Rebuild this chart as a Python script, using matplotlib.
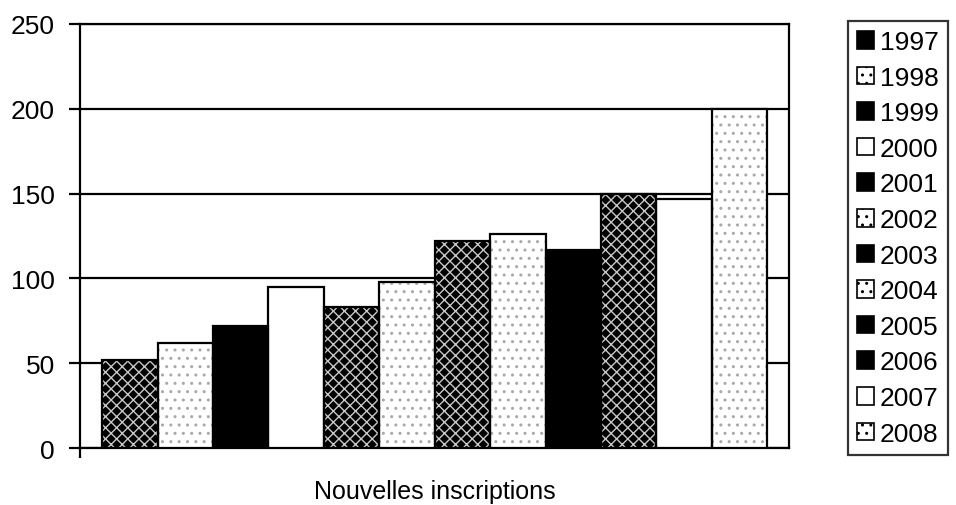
import numpy as np
import matplotlib.pyplot as plt
from matplotlib.patches import Patch

plt.rcParams['font.family'] = ['Liberation Sans', 'DejaVu Sans']

years = ['1997', '1998', '1999', '2000', '2001', '2002',
         '2003', '2004', '2005', '2006', '2007', '2008']
values = [52, 62, 72, 95, 83, 98, 122, 126, 117, 150, 147, 200]
# fill style per year: black, stipple, white, dark (black with white speckle)
styles = ['dark', 'stipple', 'black', 'white', 'dark', 'stipple',
          'dark', 'stipple', 'black', 'dark', 'white', 'stipple']

look = {
    'black':   dict(face='black', hatch=None, hcol='black'),
    'white':   dict(face='white', hatch=None, hcol='white'),
    'stipple': dict(face='white', hatch='..', hcol='#a8a8a8'),
    'dark':    dict(face='black', hatch='xxx', hcol='#c8c8c8'),
}

fig = plt.figure(figsize=(9.56, 5.06), dpi=100)
ax = fig.add_axes([0.0837, 0.1126, 0.742, 0.838])

x = np.arange(len(years))
for xi, v, s in zip(x, values, styles):
    st = look[s]
    ax.bar(xi, v, width=1.0, color=st['face'], edgecolor=st['hcol'],
           hatch=st['hatch'], linewidth=0, zorder=3)
    ax.bar(xi, v, width=1.0, fill=False, edgecolor='black', linewidth=1.6, zorder=4)

ax.set_xlim(-0.9, len(years) - 0.1)
ax.set_ylim(0, 250)
ax.set_yticks([0, 50, 100, 150, 200, 250])
ax.yaxis.grid(True, color='black', linewidth=1.6, zorder=1)
ax.set_xticks([-0.9])
ax.set_xticklabels([''])
ax.tick_params(axis='y', labelsize=19, length=8, width=1.6, direction='out', pad=10)
ax.tick_params(axis='x', length=7, width=1.6, direction='out')
for sp in ax.spines.values():
    sp.set_linewidth(1.6)
    sp.set_color('black')
ax.set_xlabel('Nouvelles inscriptions', fontsize=18, labelpad=12)

handles = []
for s in styles:
    st = look[s]
    handles.append(Patch(facecolor=st['face'], edgecolor='black', hatch=st['hatch'], linewidth=1.2))
leg = fig.legend(handles, years, loc='upper left', bbox_to_anchor=(0.887, 0.957),
                 fontsize=19, frameon=True, fancybox=False, handlelength=0.65,
                 handleheight=0.65, handletextpad=0.2, labelspacing=0.44,
                 borderpad=0.35, borderaxespad=0)
leg.get_frame().set_edgecolor('black')
leg.get_frame().set_linewidth(1.6)

fig.savefig('out.png', dpi=100)
